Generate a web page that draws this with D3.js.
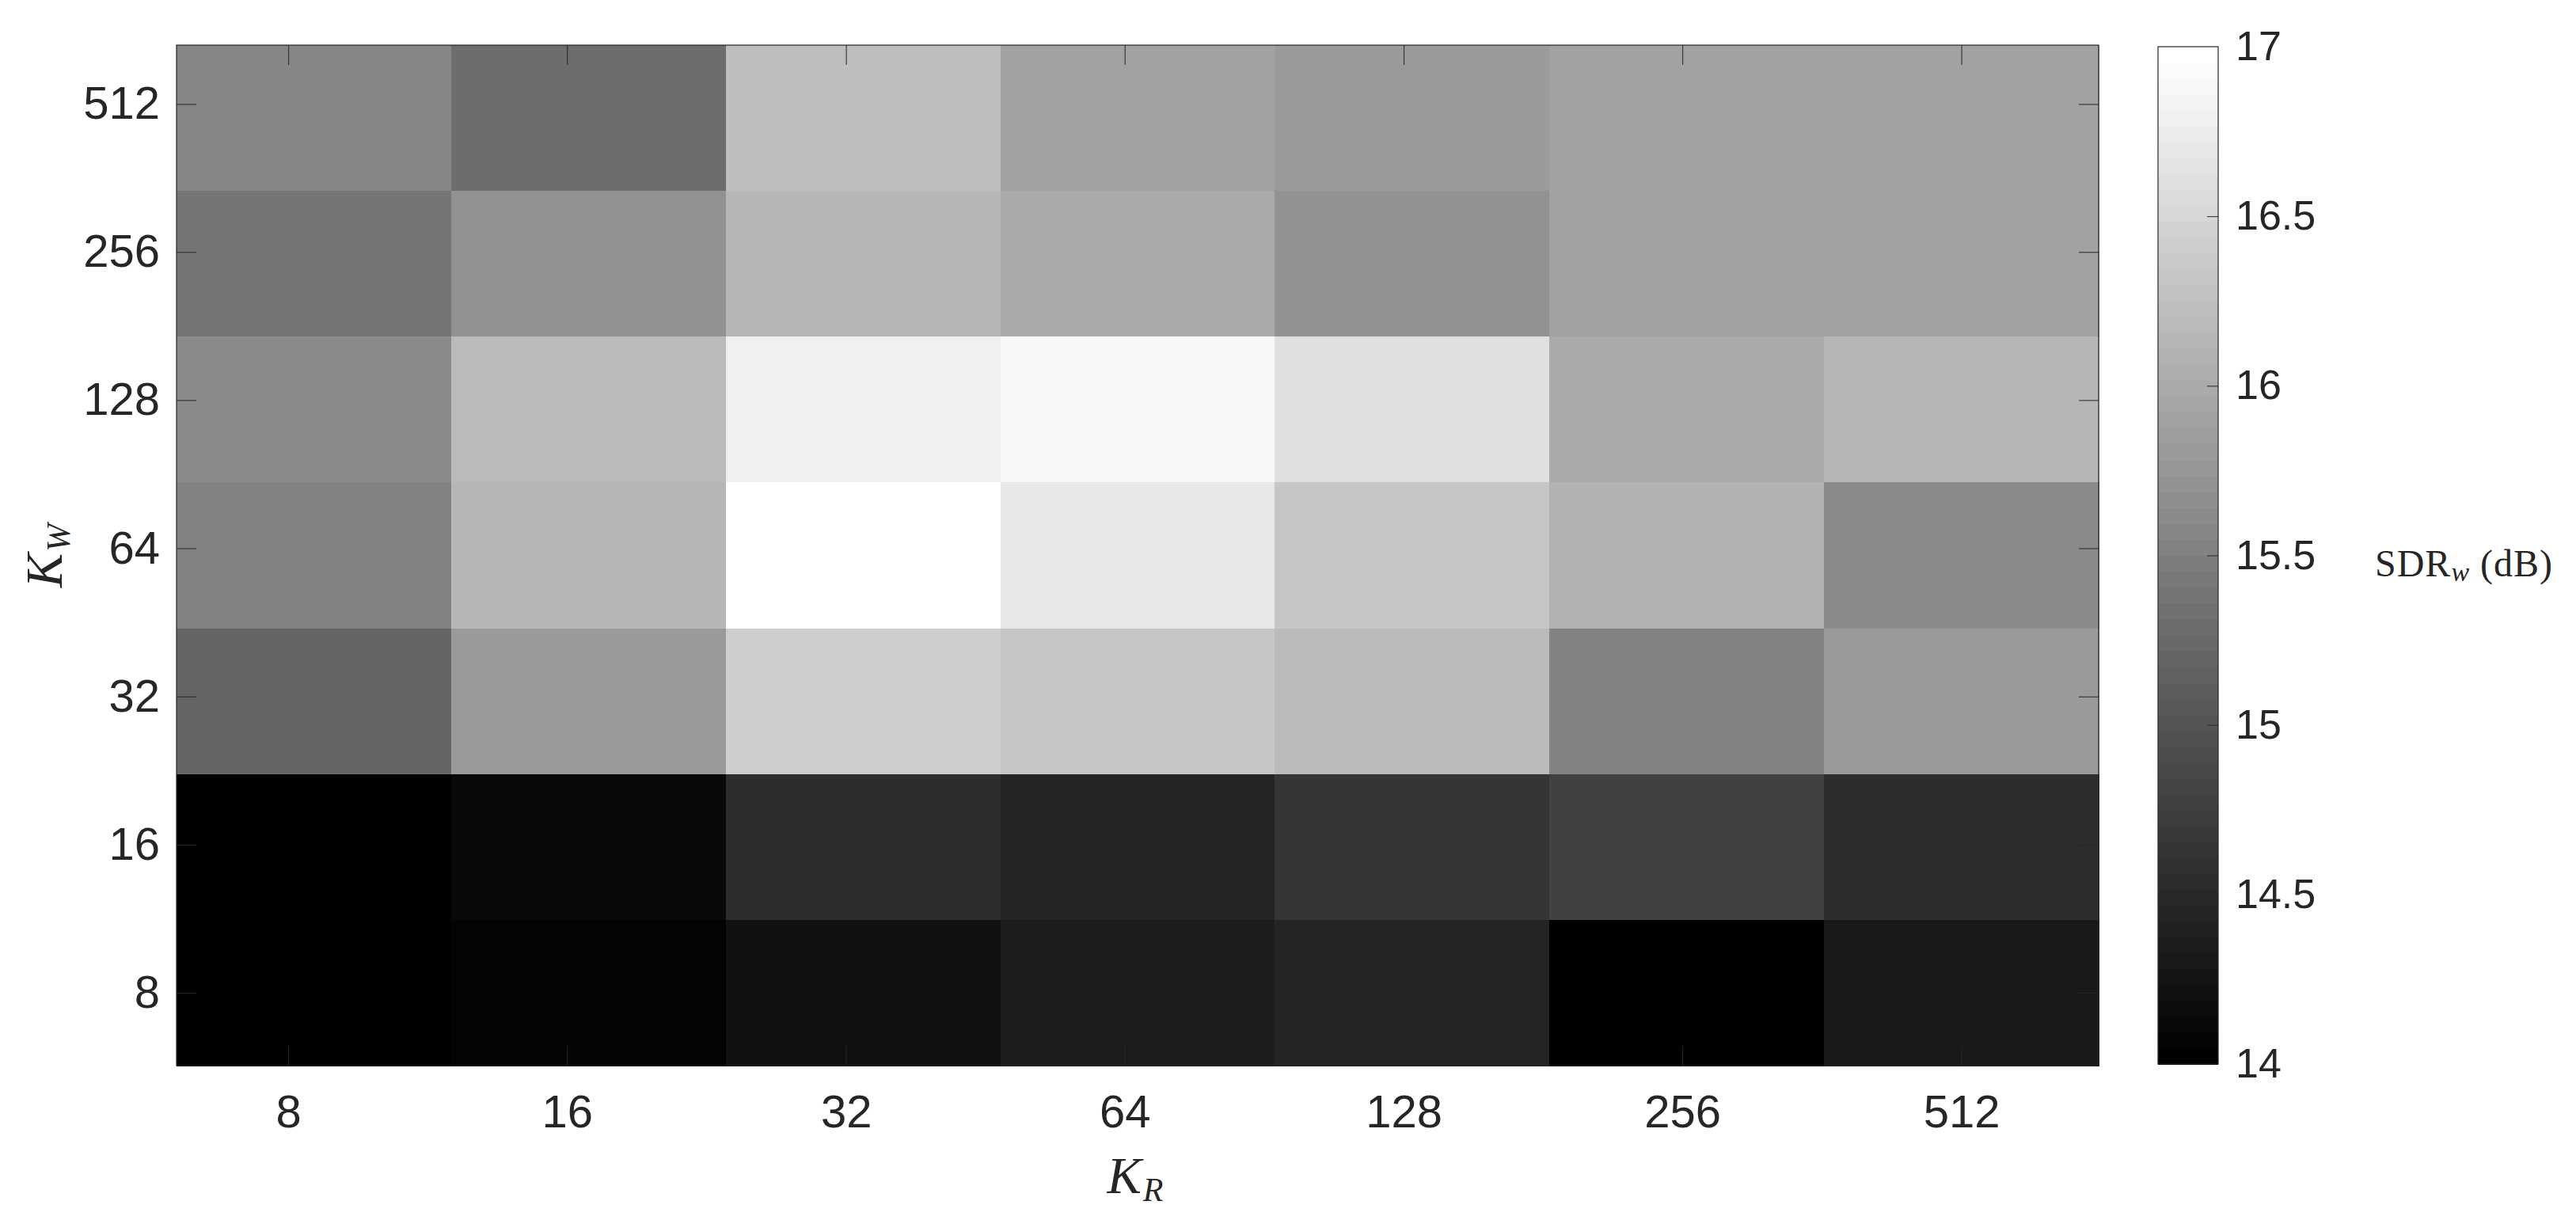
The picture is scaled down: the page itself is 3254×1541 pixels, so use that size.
<!DOCTYPE html>
<html><head><meta charset="utf-8">
<script src="https://cdn.jsdelivr.net/npm/d3@7"></script>
<style>body{margin:0;background:#fff;} svg{display:block;}</style>
</head><body>
<script>
// Categories
const kR = ["8","16","32","64","128","256","512"];          // columns, left to right
const kW = ["512","256","128","64","32","16","8"];          // rows, top to bottom
// SDR_w (dB) values, one array per K_W row (columns follow kR)
const sdrKW512 = [15.55, 15.31, 16.22, 15.91, 15.82, 15.89, 15.89];
const sdrKW256 = [15.40, 15.73, 16.11, 16.00, 15.72, 15.89, 15.89];
const sdrKW128 = [15.64, 16.20, 16.80, 16.89, 16.62, 16.00, 16.11];
const sdrKW64  = [15.54, 16.11, 17.00, 16.71, 16.33, 16.08, 15.62];
const sdrKW32  = [15.20, 15.81, 16.42, 16.32, 16.18, 15.54, 15.80];
const sdrKW16  = [14.04, 14.11, 14.56, 14.46, 14.65, 14.79, 14.55];
const sdrKW8   = [13.98, 14.09, 14.19, 14.36, 14.45, 13.99, 14.29];
const sdrRows = [sdrKW512, sdrKW256, sdrKW128, sdrKW64, sdrKW32, sdrKW16, sdrKW8];
// Tick positions (in cell units) as they appear in the original axes
const xTickPos = [0.407, 1.422, 2.438, 3.453, 4.469, 5.484, 6.5];
const yTickPos = [0.404, 1.419, 2.435, 3.451, 4.468, 5.484, 6.5];
// Colour bar
const cLim = [14, 17];
const cbTicks = [14, 14.5, 15, 15.5, 16, 16.5, 17];
const nLevels = 64;

const W = 3254, H = 1541;
const svg = d3.select("body").append("svg").attr("width", W).attr("height", H);
const txt = "#262626";
const sans = "'Liberation Sans', Arial, Helvetica, sans-serif";
const serif = "'Liberation Serif', 'Times New Roman', serif";

const pL = 223, pR = 2651, pT = 57, pB = 1346;
const x = d3.scaleLinear().domain([0, 7]).range([pL, pR]);
const y = d3.scaleLinear().domain([0, 7]).range([pT, pB]);

const grays = d3.range(nLevels).map(i => { const g = Math.round(i / (nLevels - 1) * 255); return d3.rgb(g, g, g).formatHex(); });
const color = d3.scaleQuantize().domain(cLim).range(grays);

const cells = [];
sdrRows.forEach((row, r) => row.forEach((v, c) => cells.push({r, c, v})));

svg.append("g").selectAll("rect").data(cells).join("rect")
  .attr("x", d => x(d.c)).attr("y", d => y(d.r))
  .attr("width", d => x(d.c + 1) - x(d.c) + 0.5)
  .attr("height", d => y(d.r + 1) - y(d.r) + 0.5)
  .attr("fill", d => color(d.v))
  .attr("shape-rendering", "crispEdges");

function styleAxis(g, fs) {
  g.select(".domain").remove();
  g.selectAll(".tick line").attr("stroke", txt).attr("stroke-width", 1);
  g.selectAll(".tick text").attr("fill", txt).attr("font-family", sans).attr("font-size", fs);
}

// bottom axis with labels, inner ticks
svg.append("g").attr("transform", `translate(0,${pB})`)
  .call(d3.axisBottom(x).tickValues(xTickPos).tickFormat((d, i) => kR[i]).tickSizeInner(-25).tickSizeOuter(0).tickPadding(37))
  .call(g => styleAxis(g, 58));
// top axis, ticks only
svg.append("g").attr("transform", `translate(0,${pT})`)
  .call(d3.axisTop(x).tickValues(xTickPos).tickFormat("").tickSizeInner(-25).tickSizeOuter(0))
  .call(g => styleAxis(g, 58));
// left axis with labels
svg.append("g").attr("transform", `translate(${pL},0)`)
  .call(d3.axisLeft(y).tickValues(yTickPos).tickFormat((d, i) => kW[i]).tickSizeInner(-25).tickSizeOuter(0).tickPadding(21))
  .call(g => styleAxis(g, 58));
// right axis, ticks only
svg.append("g").attr("transform", `translate(${pR},0)`)
  .call(d3.axisRight(y).tickValues(yTickPos).tickFormat("").tickSizeInner(-25).tickSizeOuter(0))
  .call(g => styleAxis(g, 58));

// plot frame
svg.append("rect").attr("x", pL).attr("y", pT).attr("width", pR - pL).attr("height", pB - pT)
  .attr("fill", "none").attr("stroke", txt).attr("stroke-width", 1.2);

// axis labels
svg.append("text").attr("x", 1434).attr("y", 1507).attr("text-anchor", "middle")
  .attr("font-family", serif).attr("font-style", "italic").attr("font-size", 65).attr("fill", txt)
  .call(t => { t.append("tspan").text("K"); t.append("tspan").attr("dy", 10).attr("dx", 2).attr("font-size", 42).text("R"); });
svg.append("text").attr("transform", "translate(78,702) rotate(-90)").attr("text-anchor", "middle")
  .attr("font-family", serif).attr("font-style", "italic").attr("font-size", 65).attr("fill", txt)
  .call(t => { t.append("tspan").text("K"); t.append("tspan").attr("dy", 10).attr("dx", 2).attr("font-size", 42).text("W"); });

// colour bar
const cbL = 2726, cbR = 2802, cbTop = 59, cbBot = 1344;
const cb = d3.scaleLinear().domain(cLim).range([cbBot, cbTop]);
const levels = d3.range(nLevels);
const lv = i => cLim[0] + (cLim[1] - cLim[0]) * i / nLevels;
svg.append("g").selectAll("rect").data(levels).join("rect")
  .attr("x", cbL).attr("width", cbR - cbL)
  .attr("y", i => cb(lv(i + 1)))
  .attr("height", i => cb(lv(i)) - cb(lv(i + 1)) + 0.5)
  .attr("fill", i => grays[i]).attr("shape-rendering", "crispEdges");
svg.append("g").attr("transform", `translate(${cbR},0)`)
  .call(d3.axisRight(cb).tickValues(cbTicks).tickFormat(d3.format("~g")).tickSizeInner(-14).tickSizeOuter(0).tickPadding(22))
  .call(g => styleAxis(g, 52))
  .call(g => g.selectAll(".tick").filter(d => d === cLim[0] || d === cLim[1]).select("line").remove());
svg.append("rect").attr("x", cbL).attr("y", cbTop).attr("width", cbR - cbL).attr("height", cbBot - cbTop)
  .attr("fill", "none").attr("stroke", txt).attr("stroke-width", 1.2);

// colour bar label
svg.append("text").attr("x", 3000).attr("y", 728)
  .attr("font-family", serif).attr("font-size", 48).attr("letter-spacing", 1).attr("fill", txt)
  .call(t => {
    t.append("tspan").text("SDR");
    t.append("tspan").attr("dy", 6).attr("font-style", "italic").attr("font-size", 34).text("w");
    t.append("tspan").attr("dy", -6).text(" (dB)");
  });
</script>
</body></html>
